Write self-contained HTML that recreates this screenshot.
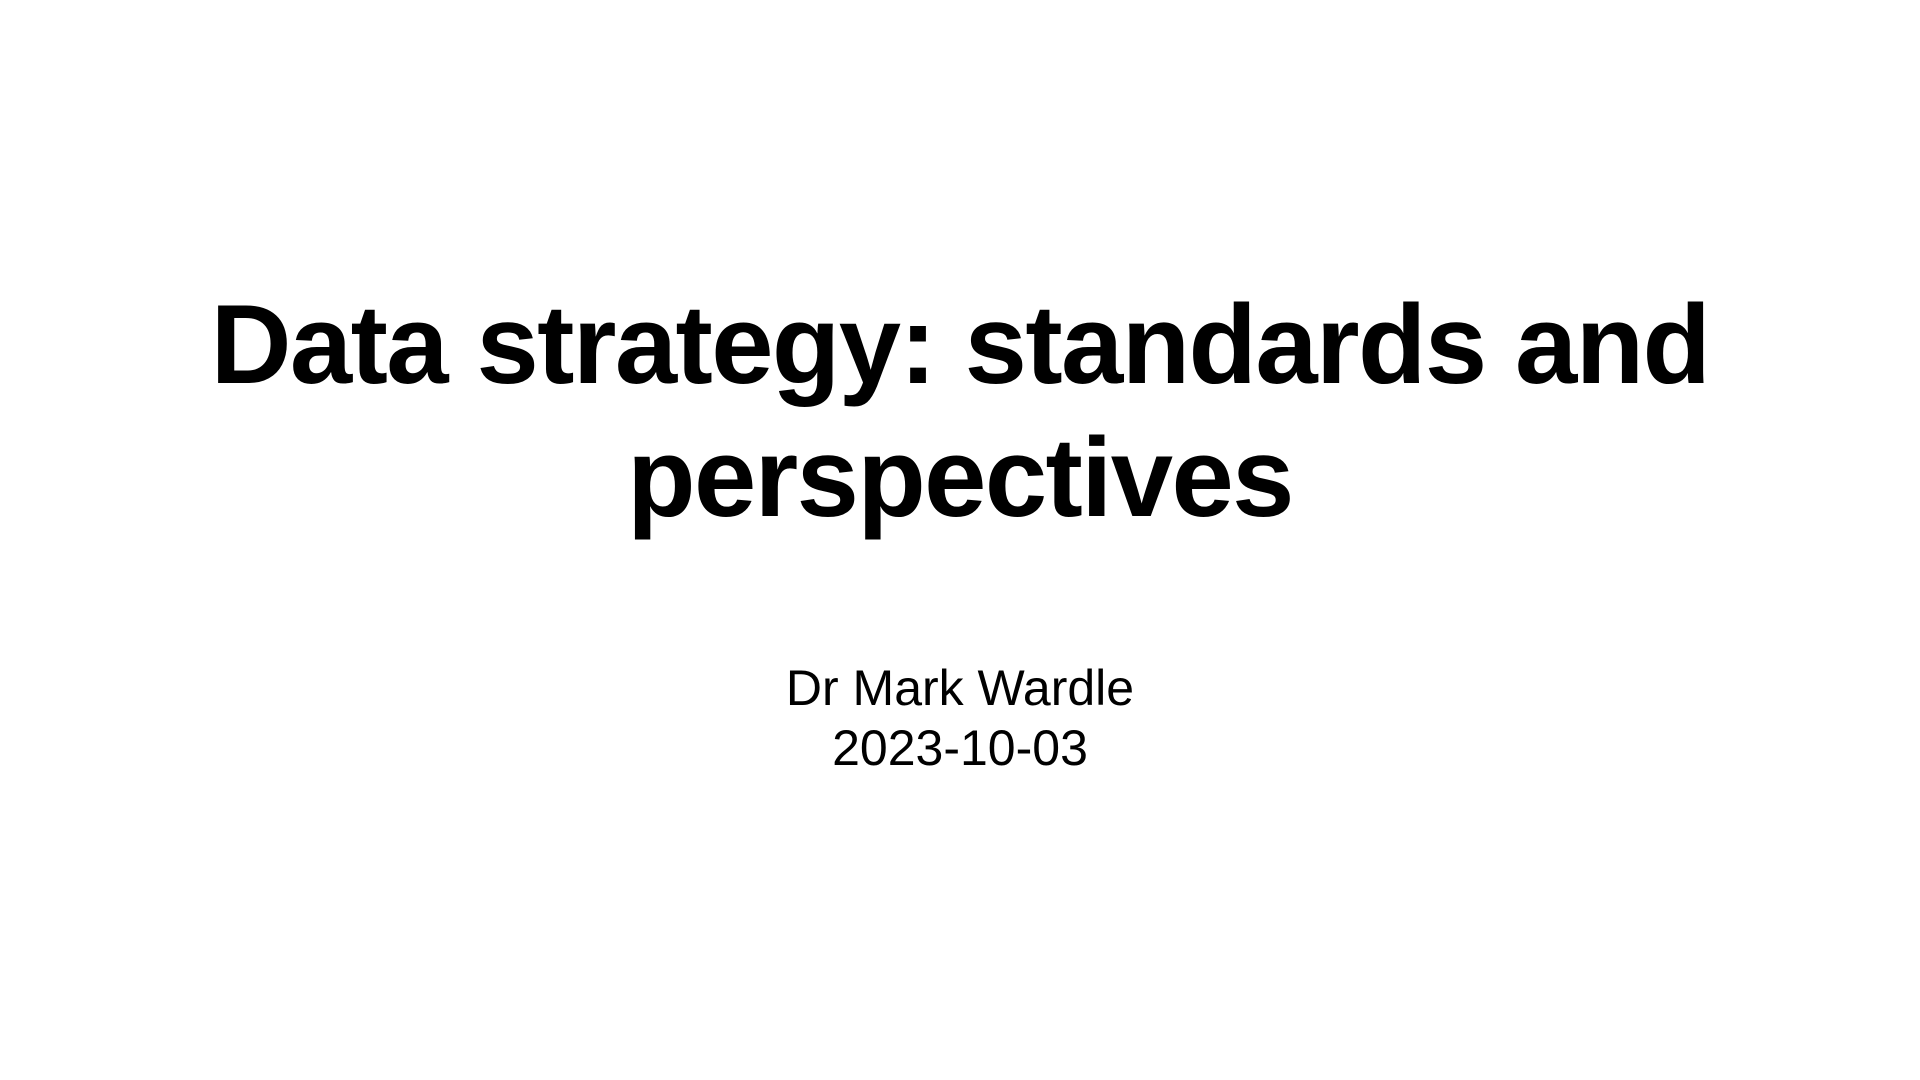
<!DOCTYPE html>
<html>
<head>
<meta charset="utf-8">
<style>
html,body{margin:0;padding:0;width:1920px;height:1080px;background:#fff;overflow:hidden}
.t{position:absolute;left:0;width:1920px;text-align:center;font-family:"Liberation Sans",sans-serif;color:#000}
#title{top:278px;font-size:112px;line-height:133px;font-weight:bold;letter-spacing:-1.6px}
#sub{top:658px;font-size:50px;line-height:60px}
</style>
</head>
<body>
<div class="t" id="title">Data strategy: standards and<br>perspectives</div>
<div class="t" id="sub"><span>Dr Mark Wardle</span><br><span>2023-10-03</span></div>
</body>
</html>
